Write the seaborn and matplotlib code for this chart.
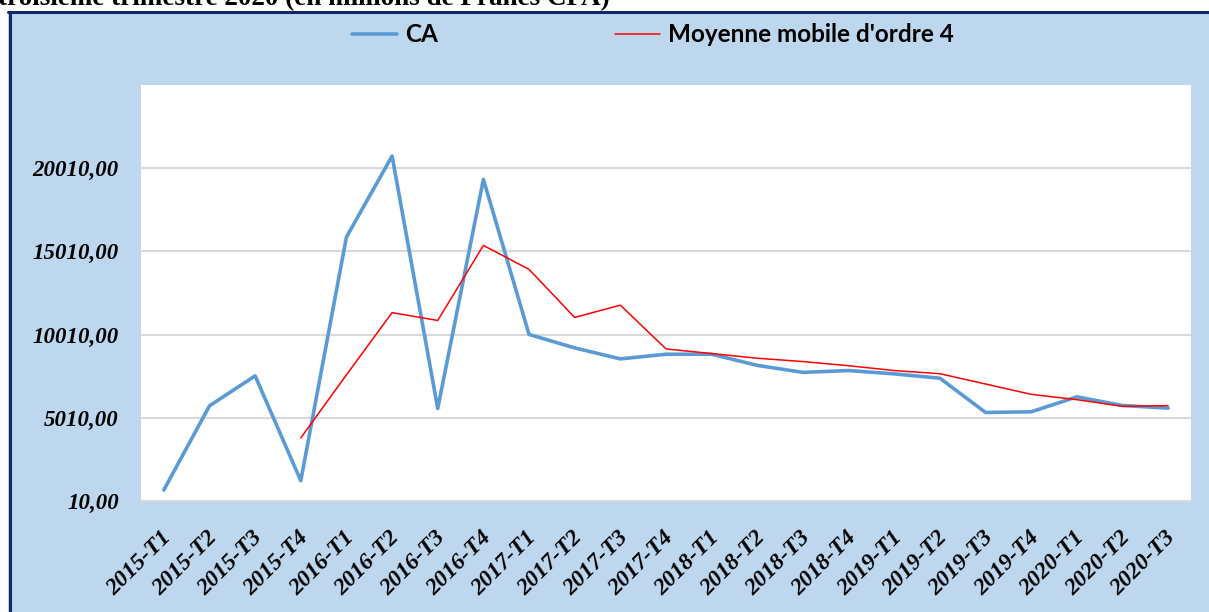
import numpy as np
import pandas as pd
import matplotlib
matplotlib.use("Agg")
import matplotlib.pyplot as plt
from matplotlib.patches import Rectangle
from matplotlib.lines import Line2D
from matplotlib.transforms import ScaledTranslation
import seaborn as sns

# quarters 2015-T1 .. 2020-T3
trimestres = ["2015-T1", "2015-T2", "2015-T3", "2015-T4",
              "2016-T1", "2016-T2", "2016-T3", "2016-T4",
              "2017-T1", "2017-T2", "2017-T3", "2017-T4",
              "2018-T1", "2018-T2", "2018-T3", "2018-T4",
              "2019-T1", "2019-T2", "2019-T3", "2019-T4",
              "2020-T1", "2020-T2", "2020-T3"]

# chiffre d'affaires (millions FCFA)
ca = [670, 5730, 7530, 1230,
      15870, 20740, 5570, 19340,
      10020, 9210, 8550, 8830,
      8830, 8160, 7740, 7850,
      7650, 7390, 5330, 5370,
      6270, 5750, 5590]

# moving average of order 4 (starts at 2015-T4)
mm4 = [np.nan, np.nan, np.nan, 3800,
       7590, 11330, 10860, 15370,
       13930, 11040, 11780, 9150,
       8870, 8590, 8390, 8140,
       7850, 7660, 7040, 6420,
       6100, 5700, 5740]

y_ticks = [10, 5010, 10010, 15010, 20010]
titre = "troisième trimestre 2020 (en millions de Francs CFA)"

df = pd.DataFrame({"trimestre": trimestres, "CA": ca, "MM4": mm4})
df["pos"] = np.arange(len(df))

sns.set_style("white")
plt.rcParams["font.family"] = ["Liberation Serif", "DejaVu Serif"]
plt.rcParams["text.color"] = "black"
plt.rcParams["xtick.color"] = "black"
plt.rcParams["ytick.color"] = "black"

W, H = 1209, 612
fig = plt.figure(figsize=(W / 100, H / 100), dpi=100)
fig.patch.set_facecolor("white")

# blue chart area with navy border on top and left
fig.patches.append(Rectangle((8 / W, 0), 1 - 8 / W, 1 - 12 / H, transform=fig.transFigure,
                             facecolor="#BDD7EE", edgecolor="none", zorder=-1))
fig.add_artist(Line2D([8 / W, 1], [1 - 12 / H, 1 - 12 / H], color="#0F2A66", lw=2.2, zorder=0))
fig.add_artist(Line2D([9.5 / W, 9.5 / W], [0, 1 - 12 / H], color="#0F2A66", lw=2.2, zorder=0))

ax = fig.add_axes([141 / W, 1 - 501 / H, (1191 - 141) / W, (501 - 85) / H])
ax.set_zorder(2)
ax.set_facecolor("white")

sns.lineplot(data=df, x="pos", y="CA", ax=ax, color="#5B9BD5", lw=2.6, label="CA")
sns.lineplot(data=df.dropna(), x="pos", y="MM4", ax=ax, color="#FF0000", lw=1.1,
             label="Moyenne mobile d'ordre 4")

ax.set_xlim(-0.5, len(df) - 0.5)
ax.set_ylim(10, 25010)
ax.set_yticks(y_ticks)
ax.set_yticklabels([f"{v:.2f}".replace(".", ",") for v in y_ticks],
                   fontsize=16.5, fontweight="bold", fontstyle="italic")
ax.set_xticks(df["pos"])
ax.set_xticklabels(df["trimestre"], rotation=45, ha="right", va="top", rotation_mode="anchor",
                   fontsize=17, fontweight="bold", fontstyle="italic")
ax.tick_params(axis="both", length=0)
ax.tick_params(axis="y", pad=16)
ax.tick_params(axis="x", pad=19)
# small nudge so the label ends sit just right of the category centre
shift = ScaledTranslation(-0.03, 0, fig.dpi_scale_trans)
for lab in ax.get_xticklabels():
    lab.set_transform(lab.get_transform() + shift)
ax.set_xlabel("")
ax.set_ylabel("")

ax.yaxis.grid(True, color="#D9D9D9", lw=1.5)
ax.set_axisbelow(True)
for side in ["top", "right", "left"]:
    ax.spines[side].set_visible(False)
ax.spines["bottom"].set_color("#D9D9D9")
ax.spines["bottom"].set_linewidth(1.5)

ax.get_legend().remove()
handles, labels = ax.get_legend_handles_labels()
fig.legend(handles, labels, loc="center", ncol=2, frameon=False,
           bbox_to_anchor=((350 + 956) / 2 / W, 1 - 35 / H),
           prop={"family": ["Lato", "DejaVu Sans"], "weight": "bold", "size": 17.5},
           handlelength=1.85, handletextpad=0.33, columnspacing=7.3)

fig.text(-2 / W, 1 - 5 / H, titre, ha="left", va="baseline",
         fontsize=19.5, fontweight="bold", family=["Liberation Serif", "DejaVu Serif"])

fig.savefig("out.png", dpi=100)
